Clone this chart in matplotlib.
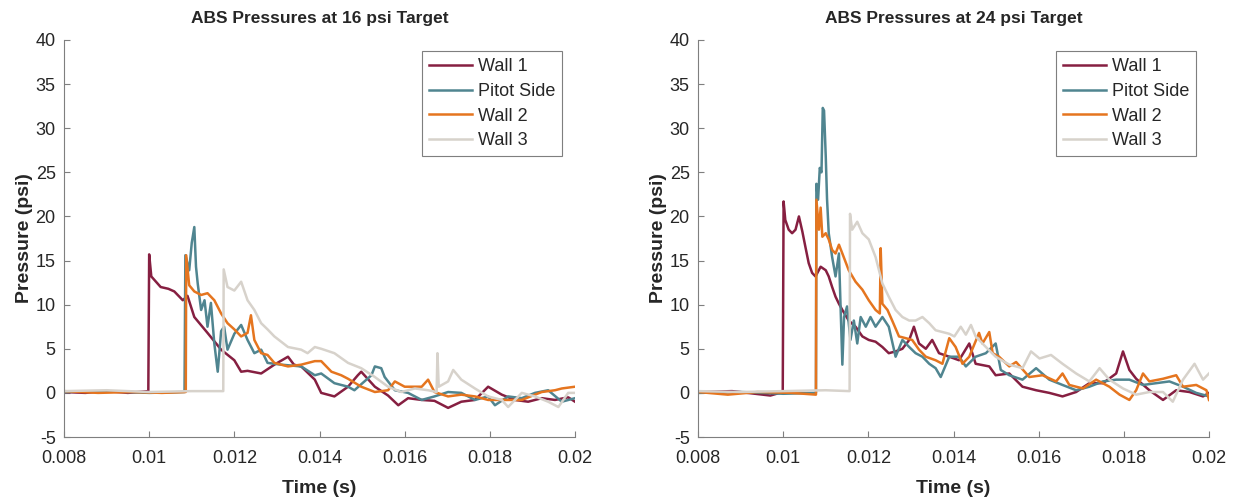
import matplotlib.pyplot as plt
import numpy as np

plt.rcParams['font.family'] = ['Liberation Sans', 'DejaVu Sans']
plt.rcParams['axes.unicode_minus'] = False

MAROON = '#861F41'
TEAL = '#508590'
ORANGE = '#E5751F'
STONE = '#D7D2CB'

labels = ['Wall 1', 'Pitot Side', 'Wall 2', 'Wall 3']
colors = [MAROON, TEAL, ORANGE, STONE]
titles = ['ABS Pressures at 16 psi Target', 'ABS Pressures at 24 psi Target']

# ---- 16 psi target ----
t16_wall1 = [0.008, 0.0085, 0.009, 0.0095, 0.00998, 0.01000, 0.01005, 0.01027, 0.01045, 0.01059,
             0.01079, 0.01090, 0.01106, 0.01137, 0.01169, 0.01200, 0.01216, 0.01231, 0.01263, 0.01294,
             0.01326, 0.01340, 0.01357, 0.01389, 0.01404, 0.01435, 0.01467, 0.01490, 0.01498, 0.01530,
             0.01561, 0.01585, 0.01608, 0.01640, 0.01670, 0.01702, 0.01733, 0.01765, 0.01796, 0.01828,
             0.01859, 0.01890, 0.01922, 0.01953, 0.01984, 0.02000]
p16_wall1 = [0.1, 0.0, 0.2, 0.0, 0.2, 15.7, 13.2, 12.0, 11.8, 11.5,
             10.5, 11.0, 8.6, 6.8, 4.9, 3.7, 2.4, 2.5, 2.2, 3.2,
             4.1, 3.2, 3.0, 1.5, 0.0, -0.4, 0.7, 2.0, 2.4, 0.7,
             -0.3, -1.4, -0.6, -0.8, -0.9, -1.7, -1.0, -0.8, 0.7, -0.2,
             -0.8, -1.0, -0.6, -0.8, -0.5, -1.0]

t16_pitot = [0.008, 0.009, 0.0100, 0.01083, 0.01085, 0.01094, 0.01100, 0.01106, 0.01110, 0.01114,
             0.01122, 0.01130, 0.01137, 0.01145, 0.01153, 0.01161, 0.01169, 0.01176, 0.01184, 0.01200,
             0.01216, 0.01231, 0.01247, 0.01263, 0.01278, 0.01310, 0.01357, 0.01389, 0.01404, 0.01435,
             0.01467, 0.01482, 0.01522, 0.01530, 0.01545, 0.01553, 0.01577, 0.01608, 0.01640, 0.01670,
             0.01702, 0.01733, 0.01765, 0.01796, 0.01812, 0.01843, 0.01875, 0.01906, 0.01937, 0.01969,
             0.02000]
p16_pitot = [0.1, 0.2, 0.0, 0.1, 15.6, 13.9, 17.0, 18.8, 14.3, 12.4,
             9.4, 10.5, 7.5, 10.2, 5.6, 2.4, 7.0, 7.5, 4.9, 6.7,
             7.7, 6.0, 4.5, 4.9, 3.4, 3.2, 3.0, 2.0, 2.2, 1.1,
             0.7, 0.3, 2.0, 3.0, 2.8, 1.8, 0.3, 0.0, -0.8, -0.4,
             0.1, 0.0, -0.8, -0.4, -1.4, -0.4, -0.6, 0.0, 0.3, -1.0,
             -0.6]

t16_wall2 = [0.008, 0.0088, 0.0096, 0.0103, 0.01086, 0.01087, 0.01094, 0.01106, 0.01122, 0.01137,
             0.01153, 0.01169, 0.01184, 0.01200, 0.01216, 0.01231, 0.01239, 0.01247, 0.01263, 0.01278,
             0.01294, 0.01326, 0.01357, 0.01389, 0.01404, 0.01428, 0.01451, 0.01467, 0.01498, 0.01530,
             0.01561, 0.01577, 0.01600, 0.01640, 0.01655, 0.01670, 0.01702, 0.01733, 0.01765, 0.01796,
             0.01843, 0.01875, 0.01906, 0.01922, 0.01953, 0.01969, 0.02000]
p16_wall2 = [0.2, 0.0, 0.1, 0.0, 0.1, 15.6, 12.2, 11.5, 11.1, 11.3,
             10.5, 9.0, 7.9, 7.2, 6.4, 6.8, 8.8, 6.0, 4.5, 4.3,
             3.4, 3.0, 3.2, 3.6, 3.6, 2.4, 2.0, 1.6, 0.7, 0.1,
             0.3, 1.3, 0.7, 0.7, 1.5, 0.1, -0.4, -0.2, -0.4, -0.8,
             -0.8, -0.8, -0.2, 0.1, 0.3, 0.5, 0.7]

t16_wall3 = [0.008, 0.009, 0.010, 0.011, 0.01174, 0.01175, 0.01184, 0.01200, 0.01216, 0.01231,
             0.01247, 0.01263, 0.01278, 0.01294, 0.01326, 0.01357, 0.01372, 0.01389, 0.01404, 0.01435,
             0.01467, 0.01498, 0.01530, 0.01561, 0.01592, 0.01624, 0.01655, 0.01675, 0.01677, 0.01680,
             0.01702, 0.01714, 0.01733, 0.01765, 0.01796, 0.01828, 0.01843, 0.01875, 0.01906, 0.01937,
             0.01961, 0.01984, 0.02000]
p16_wall3 = [0.2, 0.3, 0.1, 0.2, 0.2, 14.0, 12.0, 11.6, 12.6, 10.5,
             9.4, 7.9, 7.2, 6.4, 5.2, 4.9, 4.5, 5.2, 5.0, 4.5,
             3.4, 2.8, 1.8, 0.7, 0.1, 0.5, 0.3, 0.1, 4.5, 0.7,
             1.3, 2.6, 1.5, 0.5, -0.4, -0.8, -1.6, 0.0, -0.4, -1.0,
             -1.6, 0.0, 0.0]

# ---- 24 psi target ----
t24_wall1 = [0.008, 0.0088, 0.0097, 0.00999, 0.01001, 0.01005, 0.01013, 0.01021, 0.01029, 0.01037,
             0.01045, 0.01052, 0.01060, 0.01068, 0.01076, 0.01088, 0.01100, 0.01107, 0.01115, 0.01123,
             0.01131, 0.01139, 0.01154, 0.01170, 0.01186, 0.01201, 0.01217, 0.01233, 0.01248, 0.01264,
             0.01280, 0.01296, 0.01307, 0.01319, 0.01335, 0.01350, 0.01366, 0.01390, 0.01413, 0.01437,
             0.01452, 0.01484, 0.01499, 0.01531, 0.01562, 0.01594, 0.01625, 0.01656, 0.01688, 0.01719,
             0.01751, 0.01782, 0.01798, 0.01813, 0.01829, 0.01860, 0.01892, 0.01923, 0.01954, 0.01986,
             0.02000]
p24_wall1 = [0.1, 0.2, -0.3, 0.1, 21.7, 19.6, 18.5, 18.1, 18.5, 20.0,
             18.3, 16.6, 14.7, 13.6, 13.2, 14.3, 13.9, 13.2, 12.0, 10.9,
             10.1, 9.4, 8.2, 7.5, 6.4, 6.0, 5.8, 5.2, 4.5, 4.7,
             5.0, 6.0, 7.5, 5.6, 5.0, 6.0, 4.5, 4.1, 3.7, 5.6,
             3.3, 3.0, 2.0, 2.2, 0.7, 0.3, 0.0, -0.4, 0.1, 1.1,
             1.1, 2.2, 4.7, 2.6, 1.6, 0.3, -0.8, 0.3, 0.1, -0.4,
             0.0]

t24_pitot = [0.008, 0.009, 0.010, 0.01077, 0.01078, 0.01082, 0.01086, 0.01090, 0.01093, 0.01096,
             0.01100, 0.01103, 0.01107, 0.01115, 0.01123, 0.01131, 0.01139, 0.01143, 0.01150, 0.01158,
             0.01166, 0.01174, 0.01182, 0.01194, 0.01205, 0.01217, 0.01233, 0.01248, 0.01264, 0.01280,
             0.01296, 0.01311, 0.01327, 0.01343, 0.01358, 0.01370, 0.01390, 0.01413, 0.01429, 0.01452,
             0.01476, 0.01499, 0.01511, 0.01531, 0.01562, 0.01594, 0.01625, 0.01656, 0.01688, 0.01719,
             0.01751, 0.01782, 0.01813, 0.01845, 0.01876, 0.01907, 0.01939, 0.01970, 0.02000]
p24_pitot = [0.0, 0.1, -0.1, 0.0, 23.7, 21.9, 25.5, 25.0, 32.3, 32.0,
             26.8, 22.0, 18.1, 15.4, 13.2, 15.8, 3.2, 8.6, 9.8, 6.0,
             8.2, 5.6, 8.6, 7.5, 8.6, 7.5, 8.6, 7.5, 4.1, 6.0,
             5.2, 4.5, 4.1, 3.3, 2.8, 1.8, 4.1, 4.1, 3.0, 4.1,
             4.5, 5.6, 2.6, 2.0, 1.5, 2.8, 1.5, 0.9, 0.3, 0.7,
             1.3, 1.5, 1.5, 0.9, 1.1, 1.3, 0.7, 0.0, -0.4]

t24_wall2 = [0.008, 0.0087, 0.0094, 0.0102, 0.01077, 0.01078, 0.01084, 0.01088, 0.01092, 0.01100,
             0.01107, 0.01115, 0.01123, 0.01131, 0.01139, 0.01154, 0.01170, 0.01186, 0.01201, 0.01217,
             0.01227, 0.01229, 0.01233, 0.01245, 0.01256, 0.01272, 0.01288, 0.01303, 0.01319, 0.01335,
             0.01358, 0.01374, 0.01390, 0.01405, 0.01421, 0.01437, 0.01460, 0.01468, 0.01484, 0.01492,
             0.01507, 0.01531, 0.01547, 0.01578, 0.01609, 0.01641, 0.01656, 0.01672, 0.01704, 0.01735,
             0.01766, 0.01790, 0.01813, 0.01829, 0.01845, 0.01860, 0.01892, 0.01923, 0.01939, 0.01970,
             0.01994, 0.02000]
p24_wall2 = [0.1, -0.2, 0.1, 0.0, -0.2, 21.9, 18.5, 21.0, 17.7, 18.1,
             17.4, 16.2, 15.8, 16.8, 15.8, 13.9, 12.6, 11.7, 10.5, 9.4,
             9.0, 16.4, 10.1, 9.4, 8.2, 6.4, 6.2, 6.0, 4.9, 4.1,
             3.7, 3.3, 6.2, 5.2, 3.3, 4.1, 6.8, 5.6, 6.9, 4.5,
             4.1, 3.0, 3.5, 1.8, 2.0, 1.3, 2.2, 0.9, 0.5, 1.5,
             0.7, -0.2, -0.8, 0.3, 2.2, 1.3, 1.6, 2.0, 0.7, 0.9,
             0.3, -0.8]

t24_wall3 = [0.008, 0.009, 0.010, 0.011, 0.01156, 0.01157, 0.01162, 0.01174, 0.01186, 0.01201,
             0.01217, 0.01233, 0.01248, 0.01264, 0.01280, 0.01296, 0.01311, 0.01327, 0.01343, 0.01358,
             0.01374, 0.01390, 0.01402, 0.01417, 0.01429, 0.01441, 0.01452, 0.01476, 0.01499, 0.01531,
             0.01562, 0.01582, 0.01602, 0.01629, 0.01656, 0.01688, 0.01719, 0.01743, 0.01766, 0.01798,
             0.01829, 0.01860, 0.01892, 0.01915, 0.01939, 0.01966, 0.01986, 0.02000]
p24_wall3 = [0.2, 0.1, 0.2, 0.3, 0.2, 20.3, 18.5, 19.4, 18.1, 17.4,
             15.4, 12.4, 10.9, 9.4, 8.6, 8.2, 8.2, 8.6, 7.9, 7.1,
             6.9, 6.7, 6.4, 7.5, 6.6, 7.7, 6.4, 5.2, 4.1, 3.2,
             2.8, 4.7, 3.9, 4.3, 3.3, 2.2, 1.3, 2.8, 1.5, 0.5,
             -0.2, 0.1, 0.1, -1.0, 1.5, 3.3, 1.5, 2.2]

panels = [
    [(t16_wall1, p16_wall1), (t16_pitot, p16_pitot), (t16_wall2, p16_wall2), (t16_wall3, p16_wall3)],
    [(t24_wall1, p24_wall1), (t24_pitot, p24_pitot), (t24_wall2, p24_wall2), (t24_wall3, p24_wall3)],
]

AXIS_GREY = '#7f7f7f'
TEXT = '#262626'

fig = plt.figure(figsize=(12.36, 4.98), dpi=100)
lefts = [64 / 1236, 698 / 1236]
xt = np.arange(0.008, 0.0201, 0.002)
for idx, series in enumerate(panels):
    ax = fig.add_axes([lefts[idx], 1 - 437 / 498, 511 / 1236, 397 / 498])
    for (t, p), color, label in zip(series, colors, labels):
        ax.plot(t, p, color=color, linewidth=1.8, label=label)

    ax.set_xlim(0.008, 0.02)
    ax.set_ylim(-5, 40)
    ax.set_xticks(xt)
    ax.set_xticklabels(['%g' % round(x, 3) for x in xt])
    ax.set_yticks(np.arange(-5, 41, 5))
    for spine in ['top', 'right']:
        ax.spines[spine].set_visible(False)
    for spine in ['left', 'bottom']:
        ax.spines[spine].set_color(AXIS_GREY)
        ax.spines[spine].set_linewidth(0.8)
    ax.tick_params(direction='in', length=4, width=0.8, color=AXIS_GREY,
                   labelcolor=TEXT, labelsize=13)
    ax.tick_params(axis='x', pad=9)
    ax.tick_params(axis='y', pad=6)

    ax.set_title(titles[idx], fontsize=12.5, fontweight='bold', color=TEXT, pad=12)
    ax.set_xlabel('Time (s)', fontsize=14, fontweight='bold', color=TEXT, labelpad=10)
    ax.set_ylabel('Pressure (psi)', fontsize=14, fontweight='bold', color=TEXT, labelpad=2)

    leg = ax.legend(loc='upper right', bbox_to_anchor=(0.975, 0.972), fontsize=13,
                    handlelength=2.4, handletextpad=0.3, labelspacing=0.42,
                    borderpad=0.4, borderaxespad=0, fancybox=False, framealpha=1)
    leg.get_frame().set_edgecolor(AXIS_GREY)
    leg.get_frame().set_linewidth(0.8)
    for text in leg.get_texts():
        text.set_color(TEXT)

fig.savefig('out.png', dpi=100)
